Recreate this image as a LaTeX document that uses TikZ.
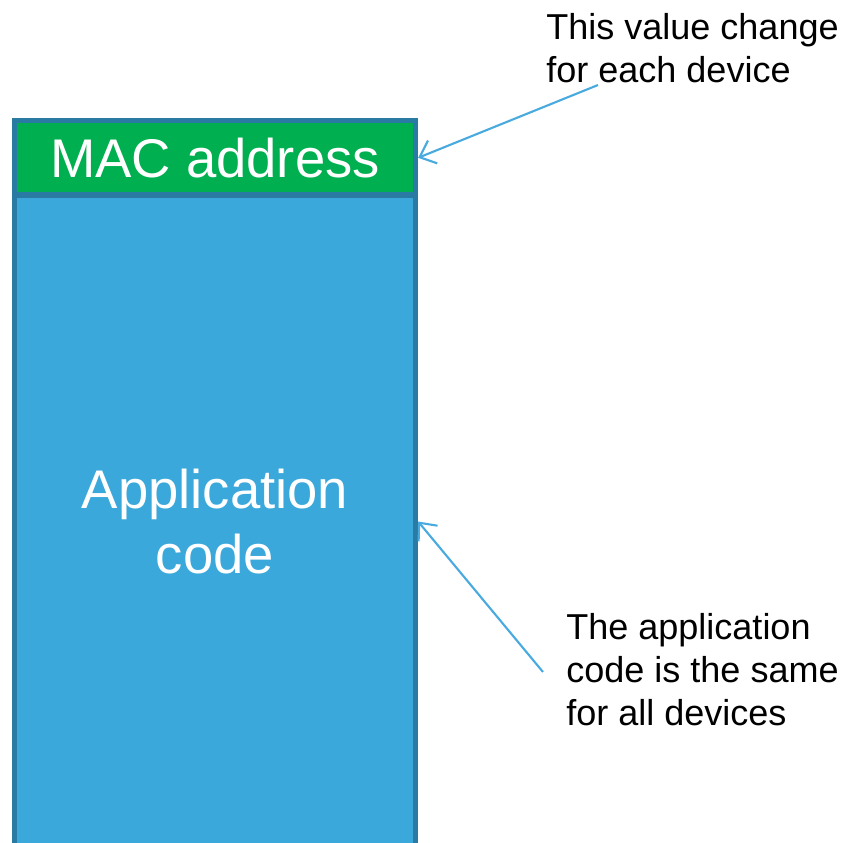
\documentclass[tikz,border=0pt]{standalone}
\usepackage{fontspec}
\setmainfont{Liberation Sans}
\usetikzlibrary{arrows.meta}

\definecolor{macgreen}{HTML}{00B050}
\definecolor{codeblue}{HTML}{3AA8DB}
\definecolor{edgeblue}{HTML}{2A7BA3}
\definecolor{arrowblue}{HTML}{48AADF}

\begin{document}
\begin{tikzpicture}[
      x = 0.02cm, y = -0.02cm, % one unit is one pixel
      memblock/.style = {draw=edgeblue, line width=3pt, text=white,
        minimum width=8.02cm, align=center, inner sep=0pt,
        font=\fontsize{31pt}{37pt}\selectfont},
      note/.style = {anchor=north west, align=left, inner sep=0pt,
        font=\fontsize{20.5pt}{24.5pt}\selectfont},
      callout/.style = {draw=arrowblue, line width=1.2pt,
        -{Straight Barb[length=8pt, width=14pt]}}
  ]
  \useasboundingbox (0,0) rectangle (850,843);

 % the two parts of the memory
 \node[memblock, fill=codeblue, minimum height=13.06cm] (app) at (215,521.5)
   {Application\\code};
 \node[memblock, fill=macgreen, minimum height=1.49cm] (mac) at (215,157.8)
   {MAC address};

 % notes
 \node[note] (note1) at (546,13) {This value change\\for each device};
 \node[note] (note2) at (566,613) {The application\\code is the same\\for all devices};

 \coordinate (from1) at (598,85);
 \coordinate (from2) at (543,672);

 \draw[callout] (from1) -- (mac.east);
 \draw[callout] (from2) -- (app.east);

\end{tikzpicture}
\end{document}
